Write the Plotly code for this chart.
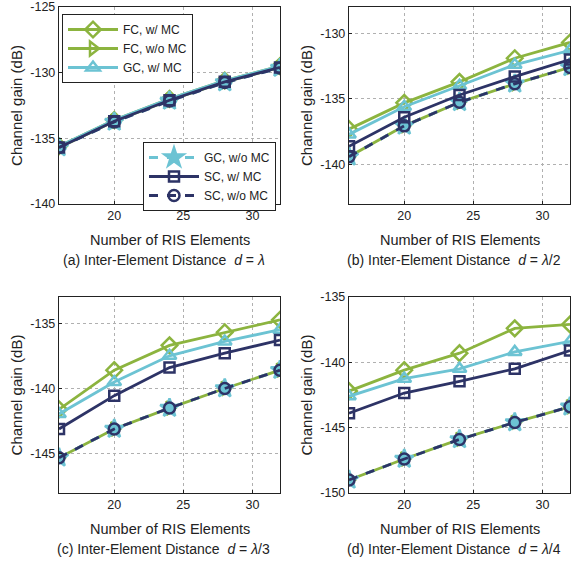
import plotly.graph_objects as go

W, H = 581, 561
n_elements = [16, 20, 24, 28, 32]
x_ticks = [20, 25, 30]

# (a) d = lambda
a_fc_mc = [-135.6, -133.6, -132.0, -130.6, -129.5]
a_fc_wo = [-135.7, -133.7, -132.1, -130.7, -129.6]
a_gc_mc = [-135.6, -133.6, -132.0, -130.6, -129.5]
a_gc_wo = [-135.7, -133.75, -132.15, -130.75, -129.65]
a_sc_mc = [-135.7, -133.7, -132.1, -130.7, -129.6]
a_sc_wo = [-135.7, -133.75, -132.15, -130.75, -129.65]
# (b) d = lambda/2
b_fc_mc = [-137.3, -135.3, -133.7, -131.9, -130.7]
b_fc_wo = [-139.4, -137.05, -135.25, -133.85, -132.6]
b_gc_mc = [-137.7, -135.6, -134.0, -132.4, -131.3]
b_gc_wo = [-139.4, -137.05, -135.25, -133.85, -132.6]
b_sc_mc = [-138.6, -136.4, -134.7, -133.3, -132.0]
b_sc_wo = [-139.4, -137.05, -135.25, -133.85, -132.6]
# (c) d = lambda/3
c_fc_mc = [-141.6, -138.6, -136.7, -135.7, -134.75]
c_fc_wo = [-145.3, -143.1, -141.5, -140.0, -138.6]
c_gc_mc = [-141.95, -139.5, -137.5, -136.4, -135.5]
c_gc_wo = [-145.3, -143.1, -141.5, -140.0, -138.6]
c_sc_mc = [-143.1, -140.55, -138.4, -137.3, -136.3]
c_sc_wo = [-145.3, -143.1, -141.5, -140.0, -138.6]
# (d) d = lambda/4
d_fc_mc = [-142.2, -140.6, -139.3, -137.4, -137.1]
d_fc_wo = [-149.0, -147.4, -145.9, -144.6, -143.4]
d_gc_mc = [-142.6, -141.25, -140.5, -139.2, -138.4]
d_gc_wo = [-149.0, -147.4, -145.9, -144.6, -143.4]
d_sc_mc = [-143.9, -142.35, -141.45, -140.5, -139.1]
d_sc_wo = [-149.0, -147.4, -145.9, -144.6, -143.4]

series_names = ["FC, w/ MC", "FC, w/o MC", "GC, w/ MC", "GC, w/o MC", "SC, w/ MC", "SC, w/o MC"]
panel_data = [
    [a_fc_mc, a_fc_wo, a_gc_mc, a_gc_wo, a_sc_mc, a_sc_wo],
    [b_fc_mc, b_fc_wo, b_gc_mc, b_gc_wo, b_sc_mc, b_sc_wo],
    [c_fc_mc, c_fc_wo, c_gc_mc, c_gc_wo, c_sc_mc, c_sc_wo],
    [d_fc_mc, d_fc_wo, d_gc_mc, d_gc_wo, d_sc_mc, d_sc_wo],
]
y_ranges = [[-140, -125], [-143, -128], [-148, -133], [-150, -135]]
y_ticks = [[-140, -135, -130, -125], [-140, -135, -130], [-145, -140, -135], [-150, -145, -140, -135]]
SP = "&nbsp;"
captions = ["(a) Inter-Element Distance" + SP * 2 + "<i>d</i>" + SP + "=" + SP + "<i>λ</i>",
            "(b) Inter-Element Distance" + SP * 2 + "<i>d</i>" + SP + "=" + SP + "<i>λ</i>/2",
            "(c) Inter-Element Distance" + SP * 2 + "<i>d</i>" + SP + "=" + SP + "<i>λ</i>/3",
            "(d) Inter-Element Distance" + SP * 2 + "<i>d</i>" + SP + "=" + SP + "<i>λ</i>/4"]

GREEN = "#8cb43f"
CYAN = "#6cc3d3"
NAVY = "#2d3366"
styles = [
    dict(color=GREEN, dash="solid", symbol="diamond-open", size=12, legend="legend"),
    dict(color=GREEN, dash="solid", symbol="triangle-right-open", size=12, legend="legend"),
    dict(color=CYAN, dash="solid", symbol="triangle-up-open", size=12, legend="legend"),
    dict(color=CYAN, dash="dash", symbol="star", size=14, legend="legend2"),
    dict(color=NAVY, dash="solid", symbol="square-open", size=10, legend="legend2"),
    dict(color=NAVY, dash="dash", symbol="circle-open", size=11, legend="legend2"),
]

# pixel boxes of the panels (left, right, top, bottom)
boxes = [(59, 280, 7, 204), (349, 570, 7, 204), (59, 280, 297, 493), (349, 570, 297, 493)]

FONT = "Liberation Sans, Arial, sans-serif"
TXT = "#222222"
fig = go.Figure()
layout = dict(width=W, height=H, margin=dict(l=0, r=0, t=0, b=0, autoexpand=False),
              paper_bgcolor="white", plot_bgcolor="white",
              font=dict(family=FONT, size=12, color=TXT))
annotations = []
for i, (data, yr, yt, cap, box) in enumerate(zip(panel_data, y_ranges, y_ticks, captions, boxes)):
    k = "" if i == 0 else str(i + 1)
    xa, ya = "x" + k, "y" + k
    l, r, t, b = box
    for j, (vals, st, name) in enumerate(zip(data, styles, series_names)):
        fig.add_trace(go.Scatter(
            x=n_elements, y=vals, mode="lines+markers", name=name,
            xaxis=xa, yaxis=ya,
            line=dict(color=st["color"], width=2.8, dash=st["dash"]),
            marker=dict(symbol=st["symbol"], size=st["size"], color=st["color"],
                        line=dict(color=st["color"], width=2.5)),
            showlegend=(i == 0), legend=st["legend"]))
    axcommon = dict(showline=True, linecolor=TXT, linewidth=1.4, mirror=True,
                    ticks="inside", ticklen=3, tickcolor=TXT, automargin=False,
                    showgrid=True, gridcolor="#b0b0b0", griddash="dot", gridwidth=1,
                    zeroline=False, tickfont=dict(size=12.5, family=FONT, color=TXT))
    layout["xaxis" + k] = dict(axcommon, domain=[l / W, r / W], range=[16, 32],
                               tickvals=x_ticks, anchor=ya)
    layout["yaxis" + k] = dict(axcommon, domain=[1 - b / H, 1 - t / H], range=yr,
                               tickvals=yt, ticktext=[str(v) for v in yt], anchor=xa,
                               title=dict(text="Channel gain (dB)", standoff=4,
                                          font=dict(size=15, family=FONT, color=TXT)))
    cx = (l + r) / 2 / W
    annotations.append(dict(text="Number of RIS Elements", xref="paper", yref="paper",
                            x=cx, y=1 - (b + 36) / H, showarrow=False,
                            xanchor="center", yanchor="middle",
                            font=dict(size=14.5, family=FONT, color=TXT)))
    annotations.append(dict(text=cap, xref="paper", yref="paper",
                            x=(l + r) / 2 / W - 6 / W, y=1 - (b + 56) / H, showarrow=False,
                            xanchor="center", yanchor="middle",
                            font=dict(size=14, family=FONT, color=TXT)))

layout["annotations"] = annotations
legstyle = dict(bgcolor="white", bordercolor=TXT, borderwidth=1,
                font=dict(size=12, family=FONT, color=TXT), itemwidth=50,
                xanchor="left", yanchor="top", tracegroupgap=0)
layout["legend"] = dict(legstyle, x=62 / W, y=1 - 14 / H)
layout["legend2"] = dict(legstyle, x=143 / W, y=1 - 142 / H)
fig.update_layout(**layout)
fig.write_html("out.html", config={"displayModeBar": False},
               post_script="document.body.style.margin='0';document.body.style.padding='0';"
                           "document.body.style.overflow='hidden';")
